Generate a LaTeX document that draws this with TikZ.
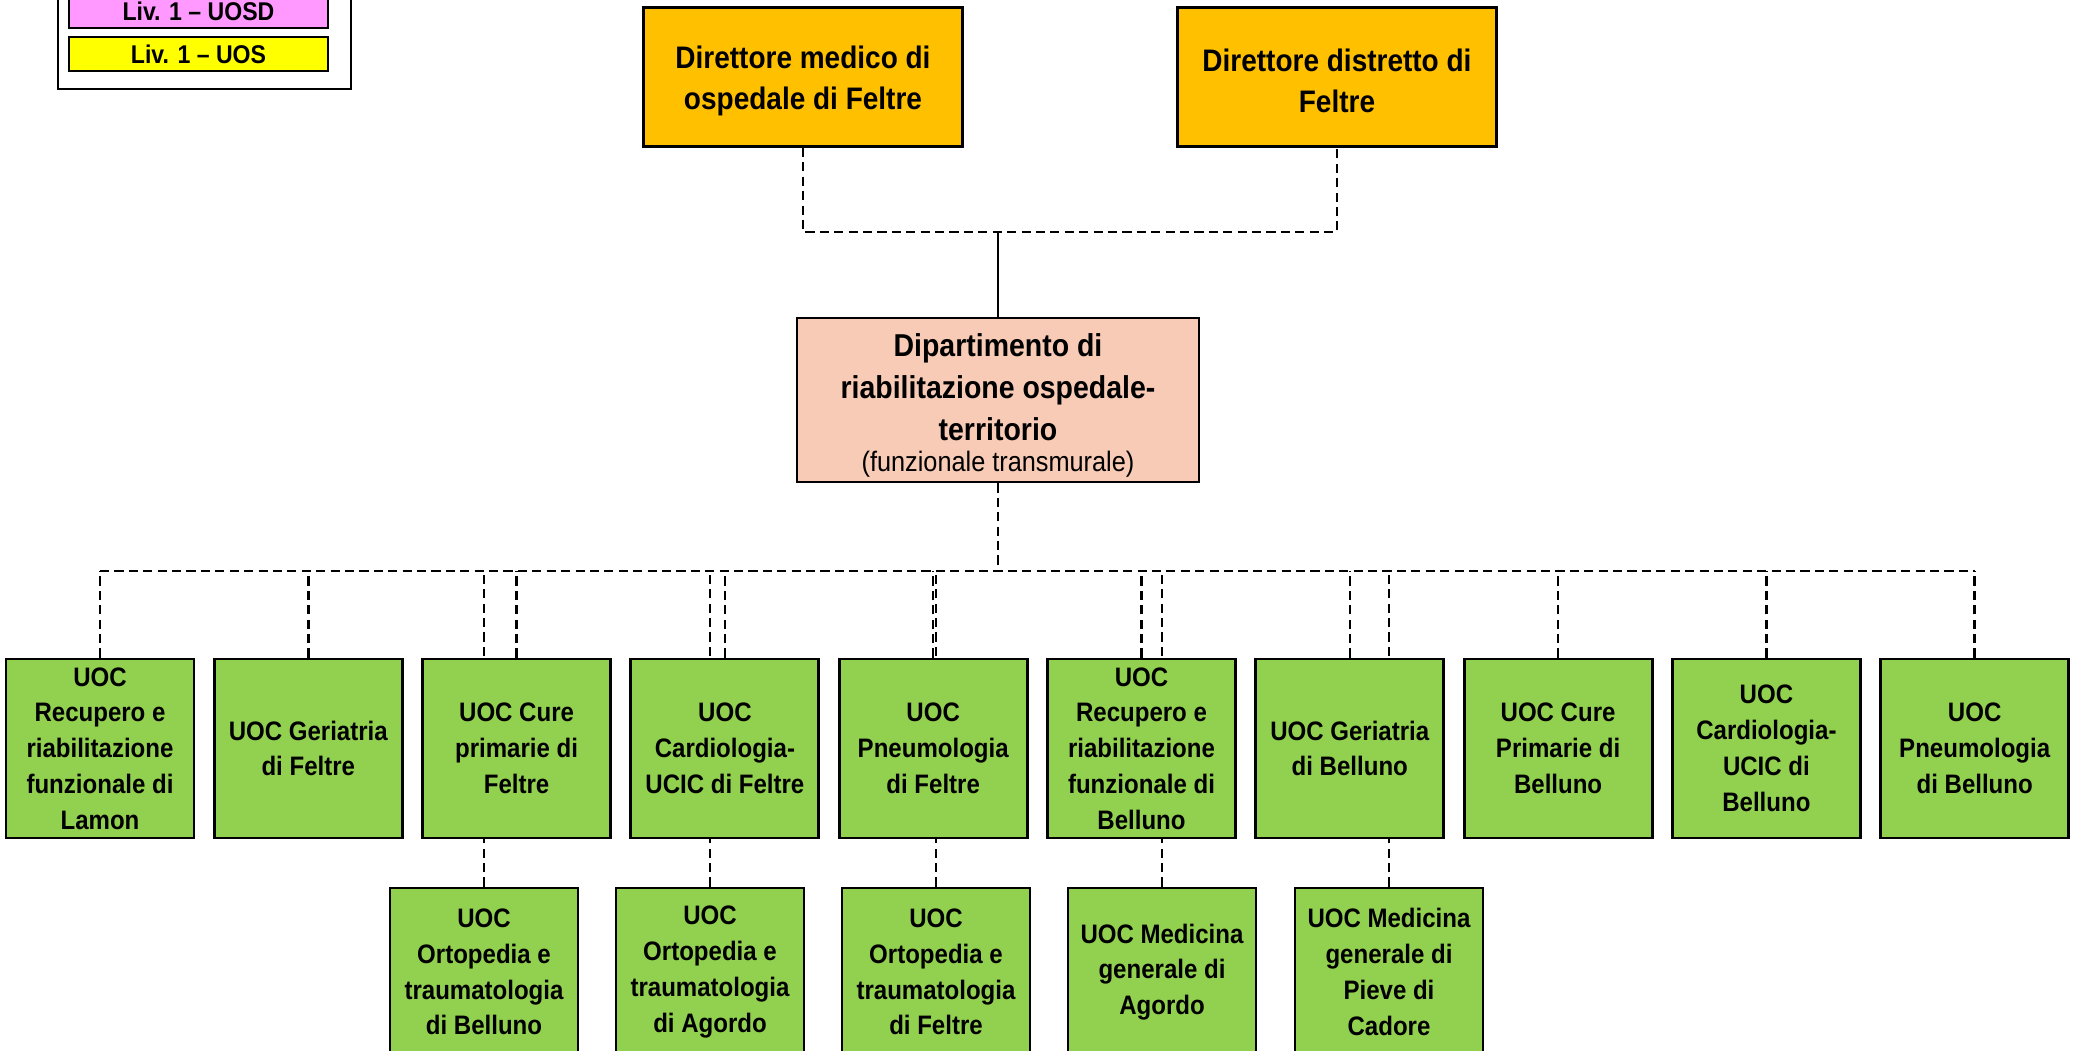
\documentclass[tikz,border=0pt]{standalone}
\usepackage{fontspec}
\setmainfont{Liberation Sans}[FakeStretch=0.9]
\usepackage{xcolor}
\usepackage{tikz}
\usetikzlibrary{backgrounds}

\definecolor{dirorange}{HTML}{FFC000}
\definecolor{deppink}{HTML}{F8CBB6}
\definecolor{uocgreen}{HTML}{92D050}
\definecolor{legpink}{HTML}{FF99FF}
\definecolor{legyellow}{HTML}{FFFF00}

\begin{document}
\begin{tikzpicture}[
  st/.style={draw, line width=0.8pt, align=center, inner sep=0pt},
  dirb/.style={st, fill=dirorange, minimum width=3.19cm, minimum height=1.39cm,
               font=\fontsize{8.85}{11.7}\selectfont\bfseries},
  depb/.style={st, fill=deppink, minimum width=4.02cm, minimum height=1.64cm,
               font=\fontsize{9}{11.9}\selectfont\bfseries},
  uoc/.style={st, fill=uocgreen, minimum width=1.88cm, minimum height=1.79cm,
              font=\fontsize{7.6}{10.2}\selectfont\bfseries},
  uocb/.style={uoc, minimum height=1.68cm},
  legb/.style={st, line width=0.6pt, minimum width=2.59cm, minimum height=0.34cm,
               font=\fontsize{7.3}{8}\selectfont\bfseries},
  legframe/.style={draw, line width=0.4pt, fill=white, minimum width=2.93cm,
                   minimum height=1.09cm},
  dsh/.style={line width=0.7pt, dash pattern=on 2.6pt off 1.5pt},
  sol/.style={line width=0.5pt}]

\useasboundingbox (0,0) rectangle (20.8,-10.5);

% legenda (in alto a sinistra, tagliata dal bordo)
\node[legframe] (leg) at (2.045, -0.345) {};
\node[legb, fill=legpink]   (uosd) at (1.985, -0.11) {Liv. 1 -- UOSD};
\node[legb, fill=legyellow] (uos)  at (1.985, -0.54) {Liv. 1 -- UOS};

% direzioni e dipartimento
\node[dirb] (dmed)  at (8.03, -0.77)
  {\rule{0pt}{8.7pt}Direttore medico di\\ospedale di Feltre};
\node[dirb] (ddist) at (13.37, -0.77)
  {\rule{0pt}{8.7pt}Direttore distretto di\\Feltre};
\node[depb] (dip)   at (9.98, -4.00)
  {\rule{0pt}{9.8pt}Dipartimento di\\riabilitazione ospedale-\\territorio\\[-3pt]
   {\mdseries\fontsize{8}{10}\selectfont (funzionale transmurale)}};

% UOC, fila centrale: passo 2.083
\node[uoc] (recL)  at (1.00, -7.485)  {UOC\\Recupero e\\riabilitazione\\funzionale di\\Lamon};
\node[uoc] (gerF)  at (3.083, -7.485) {UOC Geriatria\\di Feltre};
\node[uoc] (cureF) at (5.166, -7.485) {UOC Cure\\primarie di\\Feltre};
\node[uoc] (cardF) at (7.249, -7.485) {UOC\\Cardiologia-\\UCIC di Feltre};
\node[uoc] (pneuF) at (9.332, -7.485) {UOC\\Pneumologia\\di Feltre};
\node[uoc] (recB)  at (11.415, -7.485) {UOC\\Recupero e\\riabilitazione\\funzionale di\\Belluno};
\node[uoc] (gerB)  at (13.498, -7.485) {UOC Geriatria\\di Belluno};
\node[uoc] (cureB) at (15.581, -7.485) {UOC Cure\\Primarie di\\Belluno};
\node[uoc] (cardB) at (17.664, -7.485) {UOC\\Cardiologia-\\UCIC di\\Belluno};
\node[uoc] (pneuB) at (19.747, -7.485) {UOC\\Pneumologia\\di Belluno};

% UOC, fila bassa (tagliata in fondo)
\node[uocb] (ortB) at (4.84, -9.72)  {UOC\\Ortopedia e\\traumatologia\\di Belluno};
\node[uocb] (ortA) at (7.10, -9.72)  {UOC\\Ortopedia e\\traumatologia\\di Agordo};
\node[uocb] (ortF) at (9.36, -9.72)  {UOC\\Ortopedia e\\traumatologia\\di Feltre};
\node[uocb] (medA) at (11.62, -9.72) {UOC Medicina\\generale di\\Agordo};
\node[uocb] (medP) at (13.89, -9.72) {UOC Medicina\\generale di\\Pieve di\\Cadore};

% collegamenti
\coordinate (jn)  at (9.98, -2.32);
\coordinate (bus) at (9.98, -5.71);
\draw[dsh] (dmed.south) |- (jn) -| (ddist.south);
\draw[sol] (jn) -- (dip.north);
\draw[dsh] (dip.south) -- (bus);
\draw[dsh] (recL.north |- bus) -- (pneuB.north |- bus);
\draw[dsh] (recL.north)  -- (recL.north |- bus);
\draw[dsh] (gerF.north)  -- (gerF.north |- bus);
\draw[dsh] (cureF.north) -- (cureF.north |- bus);
\draw[dsh] (cardF.north) -- (cardF.north |- bus);
\draw[dsh] (pneuF.north) -- (pneuF.north |- bus);
\draw[dsh] (recB.north)  -- (recB.north |- bus);
\draw[dsh] (gerB.north)  -- (gerB.north |- bus);
\draw[dsh] (cureB.north) -- (cureB.north |- bus);
\draw[dsh] (cardB.north) -- (cardB.north |- bus);
\draw[dsh] (pneuB.north) -- (pneuB.north |- bus);

% fila bassa: linee dietro la fila centrale
\begin{scope}[on background layer]
\draw[dsh] (ortB.north) -- (ortB.north |- bus);
\draw[dsh] (ortA.north) -- (ortA.north |- bus);
\draw[dsh] (ortF.north) -- (ortF.north |- bus);
\draw[dsh] (medA.north) -- (medA.north |- bus);
\draw[dsh] (medP.north) -- (medP.north |- bus);
\end{scope}
\end{tikzpicture}
\end{document}
